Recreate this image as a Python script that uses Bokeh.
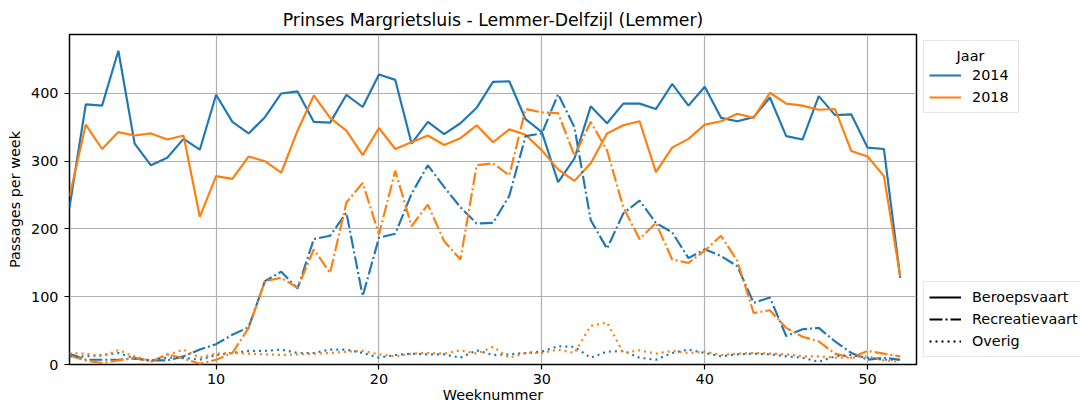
from bokeh.plotting import figure
from bokeh.layouts import row
from bokeh.models import Legend, LegendItem, Label, Range1d, FixedTicker
from bokeh.embed import file_html
from bokeh.resources import INLINE

# ---- data ----
weeks = list(range(1, 53))
years = ["2014", "2018"]
categories = ["Beroepsvaart", "Recreatievaart", "Overig"]

beroeps_2014 = [232, 384, 382, 463, 326, 294, 305, 333, 317, 398, 358, 341, 365, 400, 403, 358,
                357, 398, 380, 428, 420, 326, 358, 340, 356, 379, 417, 418, 362, 343, 269, 304,
                381, 356, 385, 385, 377, 414, 382, 410, 364, 359, 365, 394, 337, 332, 396, 368,
                369, 320, 318, 128]
beroeps_2018 = [248, 354, 318, 343, 338, 341, 332, 338, 218, 278, 274, 307, 300, 283, 345, 397,
                364, 345, 309, 349, 318, 328, 338, 324, 334, 353, 328, 347, 339, 316, 288, 271,
                297, 341, 353, 359, 284, 320, 333, 354, 359, 370, 364, 401, 385, 382, 376, 377,
                315, 307, 278, 130]
recreatie_2014 = [16, 7, 7, 7, 9, 6, 6, 12, 22, 30, 44, 55, 123, 137, 112, 185, 190, 224, 101, 187,
                  193, 252, 294, 262, 232, 208, 209, 249, 337, 341, 399, 350, 213, 171, 223, 242,
                  209, 195, 157, 170, 160, 145, 91, 99, 42, 52, 54, 34, 17, 7, 10, 7]
recreatie_2018 = [13, 6, 2, 6, 10, 4, 15, 9, 1, 7, 17, 54, 123, 128, 113, 170, 135, 239, 268, 192,
                  286, 204, 236, 182, 155, 294, 297, 279, 377, 372, 371, 308, 358, 316, 232, 185,
                  209, 155, 150, 168, 190, 153, 76, 80, 54, 41, 34, 16, 10, 20, 16, 12]
overig_2014 = [12, 12, 14, 17, 9, 6, 10, 10, 7, 14, 17, 20, 20, 22, 17, 17, 22, 22, 17, 10,
               14, 16, 15, 15, 10, 21, 14, 15, 17, 19, 27, 26, 10, 19, 20, 10, 7, 17, 22, 17,
               12, 15, 16, 15, 12, 10, 4, 12, 14, 10, 7, 7]
overig_2018 = [17, 16, 12, 21, 12, 5, 14, 22, 10, 16, 17, 16, 15, 14, 15, 16, 17, 19, 20, 15,
               12, 16, 17, 16, 21, 16, 26, 10, 17, 17, 22, 17, 57, 62, 17, 21, 16, 20, 17, 19,
               14, 16, 17, 16, 15, 12, 12, 10, 10, 12, 6, 4]

x_ticks = [10, 20, 30, 40, 50]
y_ticks = [0, 100, 200, 300, 400]

# ---- styling ----
FONT = "DejaVu Sans"
TICK_FS = "14.4px"
BLUE = "#1f77b4"
ORANGE = "#ff7f0e"
LW = 2.17
DASHES = {"Beroepsvaart": "solid", "Recreatievaart": "13 3 2 3", "Overig": "2 4"}
colors = {"2014": BLUE, "2018": ORANGE}
NAN = float("nan")

p = figure(width=920, height=407, output_backend="svg", toolbar_location=None,
           x_range=Range1d(1, 53), y_range=Range1d(0, 487),
           min_border_left=69, min_border_right=4, min_border_top=34, min_border_bottom=43,
           title="Prinses Margrietsluis - Lemmer-Delfzijl (Lemmer)")

p.title.align = "center"
p.title.text_font = FONT
p.title.text_font_size = "17.3px"
p.title.text_font_style = "normal"
p.title.text_color = "black"
p.title.standoff = 10

p.background_fill_color = "white"
p.border_fill_color = "white"
p.outline_line_color = "black"
p.outline_line_width = 1.5
p.outline_line_alpha = 1.0

p.xaxis.ticker = FixedTicker(ticks=x_ticks)
p.yaxis.ticker = FixedTicker(ticks=y_ticks)
for ax in (p.xaxis[0], p.yaxis[0]):
    ax.axis_line_color = None
    ax.minor_tick_line_color = None
    ax.major_tick_out = 5
    ax.major_tick_in = 0
    ax.major_tick_line_width = 1.2
    ax.major_tick_line_color = "black"
    ax.major_label_text_font = FONT
    ax.major_label_text_font_size = TICK_FS
    ax.major_label_text_color = "black"
    ax.axis_label_text_font = FONT
    ax.axis_label_text_font_size = TICK_FS
    ax.axis_label_text_font_style = "normal"
    ax.axis_label_text_color = "black"
p.xaxis.major_label_standoff = 4
p.xaxis.axis_label = "Weeknummer"
p.xaxis.axis_label_standoff = 0
p.yaxis.major_label_standoff = 6
p.yaxis.axis_label = "Passages per week"
p.yaxis.axis_label_standoff = 5

p.grid.grid_line_color = "#b0b0b0"
p.grid.grid_line_width = 1.2

series = {
    ("Beroepsvaart", "2014"): beroeps_2014,
    ("Beroepsvaart", "2018"): beroeps_2018,
    ("Recreatievaart", "2014"): recreatie_2014,
    ("Recreatievaart", "2018"): recreatie_2018,
    ("Overig", "2014"): overig_2014,
    ("Overig", "2018"): overig_2018,
}
for cat in categories:
    for yr in years:
        p.line(weeks, series[(cat, yr)], line_color=colors[yr],
               line_width=LW, line_dash=DASHES[cat])

# ---- legend panel (separate figure to the right of the axes; frame aligned with p) ----
q = figure(width=160, height=407, output_backend="svg", toolbar_location=None,
           x_range=Range1d(0, 1), y_range=Range1d(0, 1),
           x_axis_type=None, y_axis_type=None,
           min_border_left=0, min_border_right=0, min_border_top=34, min_border_bottom=43)
q.outline_line_color = None
q.grid.visible = False
q.background_fill_color = "white"
q.border_fill_color = "white"

# invisible placeholder renderers (single NaN point) that carry the legend glyph styles
year_renderers = {yr: q.line([NAN], [NAN], line_color=colors[yr], line_width=LW) for yr in years}
style_renderers = {cat: q.line([NAN], [NAN], line_color="black", line_width=LW, line_dash=DASHES[cat])
                   for cat in categories}

def style_legend(leg):
    leg.label_text_font = FONT
    leg.label_text_font_size = TICK_FS
    leg.label_text_color = "black"
    leg.glyph_width = 32
    leg.glyph_height = 20
    leg.label_height = 20
    leg.label_standoff = 11
    leg.spacing = 2
    leg.padding = 5
    leg.margin = 0
    leg.border_line_color = "#cccccc"
    leg.border_line_width = 1
    leg.background_fill_color = "white"
    leg.background_fill_alpha = 0.8

# frame of q spans y 34..364 (330 px); locations are from its bottom-left corner
leg_jaar = Legend(items=[LegendItem(label=yr, renderers=[year_renderers[yr]]) for yr in years],
                  location=(3, 251), title="Jaar")
style_legend(leg_jaar)
leg_jaar.background_fill_alpha = 0  # sits on the white panel; lets the centred title show
leg_jaar.label_width = 41
leg_jaar.title_text_font = FONT
leg_jaar.title_text_font_size = TICK_FS
leg_jaar.title_text_font_style = "normal"
leg_jaar.title_text_alpha = 0
leg_jaar.title_standoff = 3
q.add_layout(leg_jaar)

leg_cat = Legend(items=[LegendItem(label=c, renderers=[style_renderers[c]]) for c in categories],
                 location=(3, 7))
style_legend(leg_cat)
q.add_layout(leg_cat)

# centred legend title
jaar_title = Label(x=50, y=309, x_units="screen", y_units="screen", text="Jaar",
                   text_align="center", text_baseline="middle", text_font=FONT,
                   text_font_size=TICK_FS, text_color="black")
q.add_layout(jaar_title)

layout = row(p, q, spacing=0)
open("out.html", "w").write(file_html(layout, INLINE))
